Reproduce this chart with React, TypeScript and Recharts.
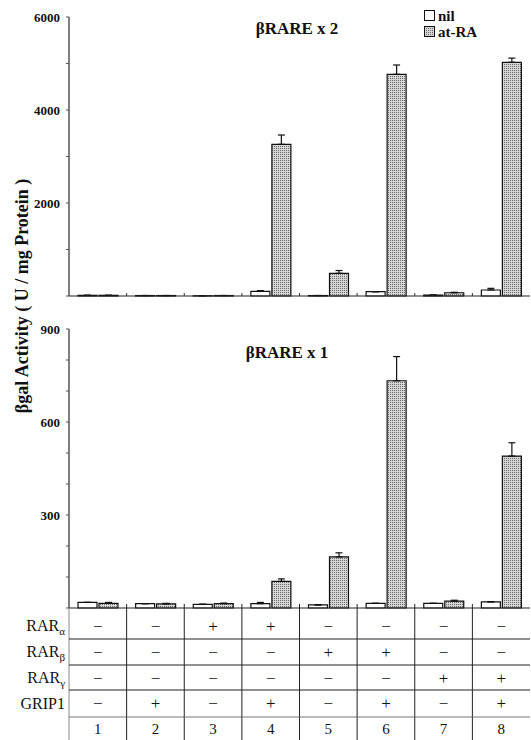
import React from 'react';
import { BarChart, Bar, XAxis, YAxis, ErrorBar, Legend } from 'recharts';

// ---------- data ----------
const groups = ['1', '2', '3', '4', '5', '6', '7', '8'];

// βRARE x 2 (top panel)
const x2Nil = [15, 10, 5, 100, 10, 92, 20, 129];
const x2NilErr = [0, 0, 0, 15, 0, 0, 0, 36];
const x2RA = [15, 10, 10, 3262, 488, 4768, 70, 5026];
const x2RAErr = [0, 0, 0, 200, 60, 200, 10, 90];

// βRARE x 1 (bottom panel)
const x1Nil = [18, 14, 12, 14, 10, 15, 15, 20];
const x1NilErr = [0, 0, 0, 4, 0, 0, 0, 0];
const x1RA = [15, 13, 14, 86, 165, 733, 22, 490];
const x1RAErr = [3, 2, 2, 8, 13, 78, 3, 43];

const topTicks = [0, 1000, 2000, 3000, 4000, 5000, 6000];
const topLabels = [2000, 4000, 6000];
const bottomTicks = [0, 100, 200, 300, 400, 500, 600, 700, 800, 900];
const bottomLabels = [300, 600, 900];

const rowNames = [
  { base: 'RAR', sub: 'α' },
  { base: 'RAR', sub: 'β' },
  { base: 'RAR', sub: 'γ' },
  { base: 'GRIP1', sub: '' },
];
const rarAlpha = ['−', '−', '+', '+', '−', '−', '−', '−'];
const rarBeta = ['−', '−', '−', '−', '+', '+', '−', '−'];
const rarGamma = ['−', '−', '−', '−', '−', '−', '+', '+'];
const grip1 = ['−', '+', '−', '+', '−', '+', '−', '+'];
const tableRows = [rarAlpha, rarBeta, rarGamma, grip1];

// ---------- layout ----------
const SERIF = '"Liberation Serif", "Times New Roman", "DejaVu Serif", serif';
const W = 531;
const Y_AXIS_W = 69;
const RIGHT = 1;
const BAND = (W - Y_AXIS_W - RIGHT) / groups.length;
const TABLE_H = 132;
const ROW_LINES = [31, 57, 82, 109];
const ROW_CENTERS = [18, 44, 70, 95.5];
const NUM_CENTER = 121;

const topData = groups.map((g, i) => ({
  g,
  nil: x2Nil[i],
  nilErr: [0, x2NilErr[i]],
  ra: x2RA[i],
  raErr: [0, x2RAErr[i]],
}));
const bottomData = groups.map((g, i) => ({
  g,
  nil: x1Nil[i],
  nilErr: [0, x1NilErr[i]],
  ra: x1RA[i],
  raErr: [0, x1RAErr[i]],
}));

const Dots = ({ id }: { id: string }) => (
  <defs>
    <pattern id={id} width={2} height={2} patternUnits="userSpaceOnUse">
      <rect width={2} height={2} fill="#d6d6d6" />
      <rect width={1} height={1} fill="#6a6a6a" />
    </pattern>
  </defs>
);

const BoundaryTick = (props: any) => {
  const { x, y, index } = props;
  if (index === 0) return <g />;
  const left = x - BAND / 2;
  return <line x1={left} x2={left} y1={y - 3} y2={y} stroke="#333" strokeWidth={1} />;
};

const TableTick = (props: any) => {
  const { x, y, index } = props;
  const left = x - BAND / 2;
  const right = x + BAND / 2;
  return (
    <g>
      <line
        x1={left}
        x2={left}
        y1={index === 0 ? y : y - 4}
        y2={y + TABLE_H}
        stroke={index === 0 ? '#888' : '#222'}
        strokeWidth={1}
      />
      {ROW_LINES.map((dy, k) => (
        <line
          key={k}
          x1={left}
          x2={right}
          y1={y + dy}
          y2={y + dy}
          stroke={k === 3 ? '#777' : '#222'}
          strokeWidth={1}
        />
      ))}
      {tableRows.map((row, k) => (
        <text
          key={k}
          x={x}
          y={y + ROW_CENTERS[k]}
          textAnchor="middle"
          dominantBaseline="central"
          fontFamily={SERIF}
          fontSize={17}
          fill="#111"
        >
          {row[index]}
        </text>
      ))}
      <text
        x={x}
        y={y + NUM_CENTER}
        textAnchor="middle"
        dominantBaseline="central"
        fontFamily={SERIF}
        fontSize={15}
        fill="#111"
      >
        {groups[index]}
      </text>
      {index === 0 &&
        rowNames.map((r, k) => (
          <text
            key={'l' + k}
            x={left - 4}
            y={y + ROW_CENTERS[k] + 5}
            textAnchor="end"
            fontFamily={SERIF}
            fontSize={16}
            fill="#111"
          >
            <tspan>{r.base}</tspan>
            {r.sub && (
              <tspan fontSize={11} dy={4}>
                {r.sub}
              </tspan>
            )}
          </text>
        ))}
    </g>
  );
};

const LegendContent = () => (
  <div style={{ fontFamily: SERIF, fontWeight: 'bold', fontSize: 15, color: '#111', lineHeight: '16px' }}>
    <div style={{ display: 'flex', alignItems: 'center', height: 16 }}>
      <svg width={12} height={12} style={{ marginRight: 2 }}>
        <rect x={0.5} y={0.5} width={10} height={10} fill="#fff" stroke="#111" />
      </svg>
      <span>nil</span>
    </div>
    <div style={{ display: 'flex', alignItems: 'center', height: 16 }}>
      <svg width={12} height={12} style={{ marginRight: 2 }}>
        <rect x={0.5} y={0.5} width={10} height={10} fill="url(#dotsTop)" stroke="#111" />
      </svg>
      <span>at-RA</span>
    </div>
  </div>
);

const yTickStyle = { fontFamily: SERIF, fontWeight: 'bold', fontSize: 13, fill: '#111' };

export default function App() {
  return (
    <div style={{ position: 'absolute', left: 0, top: 0, width: W, height: 740, background: '#fff' }}>
      <div style={{ position: 'absolute', left: 0, top: 0 }}>
        <BarChart
          width={W}
          height={300}
          data={topData}
          margin={{ top: 17, right: RIGHT, bottom: 0, left: 0 }}
          barSize={19}
          barGap={2}
        >
          <Dots id="dotsTop" />
          <YAxis
            width={Y_AXIS_W}
            domain={[0, 6000]}
            ticks={topTicks}
            interval={0}
            tickSize={3}
            tickMargin={6}
            tickFormatter={(v: number) => (topLabels.includes(v) ? String(v) : '')}
            axisLine={{ stroke: '#555', strokeWidth: 1.5 }}
            tickLine={{ stroke: '#555' }}
            tick={yTickStyle}
          />
          <XAxis
            dataKey="g"
            height={4}
            interval={0}
            tickSize={0}
            tickMargin={0}
            tickLine={false}
            axisLine={{ stroke: '#222', strokeWidth: 1.2 }}
            tick={<BoundaryTick />}
          />
          <Legend
            layout="vertical"
            align="center"
            verticalAlign="middle"
            content={<LegendContent />}
            wrapperStyle={{ position: 'absolute', left: 424, top: 8, width: 'auto', height: 'auto' }}
          />
          <Bar dataKey="nil" name="nil" fill="#fff" stroke="#111" strokeWidth={1.2} isAnimationActive={false}>
            <ErrorBar dataKey="nilErr" width={3.5} stroke="#111" strokeWidth={1.2} />
          </Bar>
          <Bar dataKey="ra" name="at-RA" fill="url(#dotsTop)" stroke="#111" strokeWidth={1.2} isAnimationActive={false}>
            <ErrorBar dataKey="raErr" width={3.5} stroke="#111" strokeWidth={1.2} />
          </Bar>
        </BarChart>
      </div>
      <div style={{ position: 'absolute', left: 0, top: 300 }}>
        <BarChart
          width={W}
          height={440}
          data={bottomData}
          margin={{ top: 29, right: RIGHT, bottom: 0, left: 0 }}
          barSize={19}
          barGap={2}
        >
          <Dots id="dotsBottom" />
          <YAxis
            width={Y_AXIS_W}
            domain={[0, 900]}
            ticks={bottomTicks}
            interval={0}
            tickSize={3}
            tickMargin={6}
            tickFormatter={(v: number) => (bottomLabels.includes(v) ? String(v) : '')}
            axisLine={{ stroke: '#555', strokeWidth: 1.5 }}
            tickLine={{ stroke: '#555' }}
            tick={yTickStyle}
          />
          <XAxis
            dataKey="g"
            height={TABLE_H}
            interval={0}
            tickSize={0}
            tickMargin={0}
            tickLine={false}
            axisLine={{ stroke: '#222', strokeWidth: 1.2 }}
            tick={<TableTick />}
          />
          <Bar dataKey="nil" name="nil" fill="#fff" stroke="#111" strokeWidth={1.2} isAnimationActive={false}>
            <ErrorBar dataKey="nilErr" width={3.5} stroke="#111" strokeWidth={1.2} />
          </Bar>
          <Bar dataKey="ra" name="at-RA" fill="url(#dotsBottom)" stroke="#111" strokeWidth={1.2} isAnimationActive={false}>
            <ErrorBar dataKey="raErr" width={3.5} stroke="#111" strokeWidth={1.2} />
          </Bar>
        </BarChart>
      </div>
      <svg
        width={W}
        height={740}
        style={{ position: 'absolute', left: 0, top: 0, pointerEvents: 'none' }}
      >
        <text
          transform="translate(22,296) rotate(-90)"
          textAnchor="middle"
          dominantBaseline="central"
          fontFamily={SERIF}
          fontWeight="bold"
          fontSize={18}
          fill="#111"
        >
          βgal Activity ( U / mg Protein )
        </text>
        <text x={297} y={28} textAnchor="middle" dominantBaseline="central" fontFamily={SERIF} fontWeight="bold" fontSize={17} fill="#111">
          βRARE x 2
        </text>
        <text x={287} y={352} textAnchor="middle" dominantBaseline="central" fontFamily={SERIF} fontWeight="bold" fontSize={17} fill="#111">
          βRARE x 1
        </text>
      </svg>
    </div>
  );
}
